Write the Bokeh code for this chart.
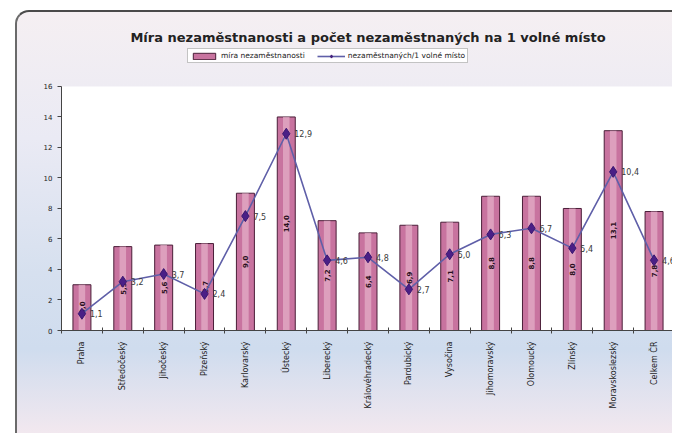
import math
from bokeh.plotting import figure
from bokeh.models import ColumnDataSource, FixedTicker, Legend, LegendItem, Range1d, BoxAnnotation
from bokeh.core.properties import value
from bokeh.embed import file_html
from bokeh.resources import INLINE

# ---- data ----
regions = ["Praha", "Středočeský", "Jihočeský", "Plzeňský", "Karlovarský", "Ústecký",
           "Liberecký", "Královéhradecký", "Pardubický", "Vysočina", "Jihomoravský",
           "Olomoucký", "Zlínský", "Moravskoslezský", "Celkem ČR"]
rate = [3.0, 5.5, 5.6, 5.7, 9.0, 14.0, 7.2, 6.4, 6.9, 7.1, 8.8, 8.8, 8.0, 13.1, 7.8]
per_vacancy = [1.1, 3.2, 3.7, 2.4, 7.5, 12.9, 4.6, 4.8, 2.7, 5.0, 6.3, 6.7, 5.4, 10.4, 4.6]
y_ticks = [0, 2, 4, 6, 8, 10, 12, 14, 16]
y_max = 16

title_text = "Míra nezaměstnanosti a počet nezaměstnaných na 1 volné místo"
series_names = ["míra nezaměstnanosti", "nezaměstnaných/1 volné místo"]

def fmt(v):
    return f"{v:.1f}".replace(".", ",")

idx = list(range(len(regions)))
src = ColumnDataSource(dict(
    x=idx,
    rate=rate,
    half=[r / 2 for r in rate],
    rate_lbl=[fmt(r) for r in rate],
    pv=per_vacancy,
    pv_lbl=[fmt(v) for v in per_vacancy],
))

FONT = "DejaVu Sans"

# the frame reaches above the value axis so the legend box can sit in it
p = figure(width=657, height=423,
           x_range=Range1d(-0.5, len(regions) - 0.5), y_range=Range1d(0, 18.62),
           output_backend="svg", toolbar_location=None,
           min_border_left=44, min_border_right=0, min_border_top=34, min_border_bottom=105)

p.border_fill_color = None
p.background_fill_color = None
p.outline_line_color = None
p.styles = {
    "margin-left": "15px",
    "margin-top": "10px",
    "background": "linear-gradient(to bottom, #f5eff2 0%, #eaeaf4 30%, #d6e0ef 62%, #cfdcee 80%, #f2e8ef 100%)",
    "border-top": "2px solid #4a4a4a",
    "border-left": "2px solid #6a6a6a",
    "border-top-left-radius": "14px",
}
p.xgrid.visible = False
p.ygrid.visible = False

# white plot area (0..16)
p.add_layout(BoxAnnotation(bottom=0, top=y_max, fill_color="white", fill_alpha=1,
                           line_color=None, level="underlay"))

# title
p.title.text = title_text
p.title.align = "center"
p.title.text_font = FONT
p.title.text_font_size = "13px"
p.title.text_font_style = "bold"
p.title.text_color = "#222222"
p.title.standoff = 4

# bars (with a lighter highlight strip to mimic the cylinder look)
bars = p.vbar(x="x", top="rate", width=0.44, source=src,
              fill_color="#c8739f", line_color="#4a1e38", line_width=1)
p.vbar(x="x", top="rate", width=0.16, source=src,
       fill_color="#e6b2cb", fill_alpha=0.7, line_color=None)

# in-bar labels
p.text(x="x", y="half", text="rate_lbl", source=src, angle=math.pi / 2,
       text_align="center", text_baseline="middle",
       text_font=value(FONT), text_font_size="7px", text_font_style="bold",
       text_color="#2a0f20")

# line series
ln = p.line(x="x", y="pv", source=src, line_color="#5f5fa8", line_width=1.6)
pts = p.scatter(x="x", y="pv", source=src, marker="diamond", size=11,
                fill_color="#4a1f86", line_color="#3a1670")
p.text(x="x", y="pv", text="pv_lbl", source=src, x_offset=8,
       text_align="left", text_baseline="middle",
       text_font=value(FONT), text_font_size="8px", text_color="#3a3a3a")

# y axis
p.yaxis.ticker = FixedTicker(ticks=y_ticks)
p.yaxis.bounds = (0, y_max)
p.yaxis.axis_line_color = "#444444"
p.yaxis.major_tick_line_color = "#444444"
p.yaxis.major_tick_out = 4
p.yaxis.major_tick_in = 0
p.yaxis.minor_tick_line_color = None
p.yaxis.major_label_text_font = FONT
p.yaxis.major_label_text_font_size = "7px"
p.yaxis.major_label_text_color = "#222222"

# x axis
p.xaxis.ticker = FixedTicker(ticks=idx, minor_ticks=[i - 0.5 for i in range(len(regions) + 1)])
p.xaxis.major_label_overrides = {i: name for i, name in zip(idx, regions)}
p.xaxis.major_label_orientation = math.pi / 2
p.xaxis.major_tick_line_color = None
p.xaxis.minor_tick_line_color = "#444444"
p.xaxis.minor_tick_in = 3
p.xaxis.minor_tick_out = 3
p.xaxis.axis_line_color = "#444444"
p.xaxis.major_label_text_font = FONT
p.xaxis.major_label_text_font_size = "8px"
p.xaxis.major_label_text_color = "#222222"
p.xaxis.major_label_standoff = 5

legend = Legend(items=[LegendItem(label=series_names[0], renderers=[bars]),
                       LegendItem(label=series_names[1], renderers=[ln, pts])],
                orientation="horizontal", location=(126, 267),
                label_text_font=FONT, label_text_font_size="7.5px", label_text_color="#222222",
                glyph_height=8, glyph_width=28, spacing=12, padding=2, margin=0,
                label_standoff=3, label_height=8,
                border_line_color="#888888", background_fill_color="white")
p.add_layout(legend, "center")

open("out.html", "w").write(file_html(p, INLINE))
